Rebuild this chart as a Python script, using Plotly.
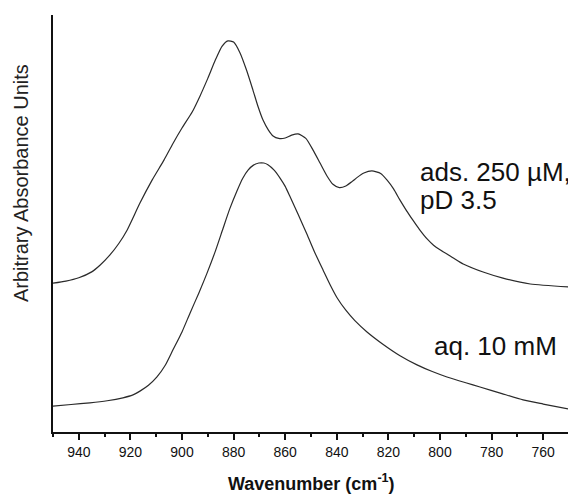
import plotly.graph_objects as go

# Adsorbed 250 uM, pD 3.5 (upper spectrum)
ads_wn = [950, 945, 940, 935, 931.8, 928, 924.5, 921.3, 916.3, 911.6, 907, 903.5, 900, 896,
          893, 890, 887, 884.5, 882.2, 880, 877.5, 875, 872.5, 870.5, 868.6, 866.5, 864.7,
          862.5, 860, 857.5, 855, 852, 849.2, 846.5, 843.8, 841.5, 839, 836.5, 834, 832.2,
          829.5, 826.4, 823, 820.5, 818, 815.5, 813, 810.5, 808, 805, 802.5, 800, 795, 791,
          783, 775.6, 765, 750]
ads_abs = [0.357, 0.362, 0.370, 0.384, 0.400, 0.424, 0.452, 0.484, 0.549, 0.604, 0.652, 0.692,
           0.729, 0.768, 0.806, 0.848, 0.893, 0.925, 0.938, 0.935, 0.909, 0.868, 0.820, 0.780,
           0.748, 0.724, 0.710, 0.704, 0.705, 0.712, 0.715, 0.704, 0.676, 0.645, 0.614, 0.594,
           0.586, 0.590, 0.601, 0.610, 0.621, 0.626, 0.620, 0.604, 0.583, 0.556, 0.531, 0.508,
           0.486, 0.463, 0.448, 0.437, 0.418, 0.403, 0.383, 0.369, 0.355, 0.348]

# Aqueous 10 mM (lower spectrum)
aq_wn = [950, 943, 935.7, 929, 922.9, 919, 916.3, 913, 909.7, 906.5, 903.5, 900, 896.9, 893.5,
         890.3, 887, 884.1, 881.5, 878.7, 876.5, 874.4, 872.3, 870.2, 868.3, 866.7, 864.3,
         862.0, 860, 858.1, 855, 851.6, 848.5, 845.3, 842.5, 839.9, 836.5, 833, 828.3, 822,
         815.5, 808.9, 803, 797.3, 790, 784.5, 776, 767.8, 760, 750]
aq_abs = [0.062, 0.066, 0.070, 0.075, 0.082, 0.089, 0.098, 0.112, 0.132, 0.160, 0.197, 0.240,
          0.285, 0.333, 0.381, 0.435, 0.488, 0.535, 0.578, 0.608, 0.628, 0.640, 0.645, 0.645,
          0.641, 0.628, 0.609, 0.589, 0.564, 0.522, 0.475, 0.430, 0.388, 0.352, 0.322, 0.292,
          0.267, 0.240, 0.210, 0.183, 0.161, 0.145, 0.132, 0.118, 0.108, 0.092, 0.077, 0.067,
          0.055]

x_tick_vals = [940, 920, 900, 880, 860, 840, 820, 800, 780, 760]
x_tick_text = [str(v) for v in x_tick_vals]
x_minor_vals = [950, 930, 910, 890, 870, 850, 830, 810, 790, 770, 750]

series_labels = ["ads. 250 µM,", "pD 3.5", "aq. 10 mM"]

FONT = "Liberation Sans, Arial, sans-serif"
LINE = "#2a2a2a"

fig = go.Figure()
for xs, ys in ((ads_wn, ads_abs), (aq_wn, aq_abs)):
    fig.add_trace(go.Scatter(x=xs, y=ys, mode="lines",
                             line=dict(color=LINE, width=1.2, shape="spline", smoothing=0.6),
                             showlegend=False, hoverinfo="skip"))

fig.update_layout(
    width=576, height=495,
    margin=dict(l=45, r=15, t=7, b=71),
    paper_bgcolor="white", plot_bgcolor="white",
    font=dict(family=FONT, color="#111"),
    xaxis=dict(range=[950, 750], showline=True, linecolor="#111", linewidth=1.5,
               showgrid=False, zeroline=False, ticks="outside", ticklen=6, tickwidth=1.5,
               tickcolor="#111", tickvals=x_tick_vals, ticktext=x_tick_text,
               tickfont=dict(size=14, family=FONT, color="#111"),
               minor=dict(tickvals=x_minor_vals, ticks="outside", ticklen=3,
                          tickwidth=1.5, tickcolor="#111")),
    yaxis=dict(range=[0, 1], showline=True, linecolor="#111", linewidth=2,
               showgrid=False, zeroline=False, showticklabels=False, ticks=""),
    annotations=[
        dict(text="Wavenumber (cm<sup>-1</sup>)", xref="paper", yref="paper",
             x=0.5, y=-0.122, xanchor="center", yanchor="middle", showarrow=False,
             font=dict(size=18, family=FONT, color="#111", weight="bold")),
        dict(text="Arbitrary Absorbance Units", xref="paper", yref="paper",
             x=-0.062, y=0.597, xanchor="center", yanchor="middle", showarrow=False,
             textangle=-90, font=dict(size=20, family=FONT, color="#222")),
        dict(text=series_labels[0], xref="paper", yref="paper",
             x=0.707, y=0.623, xanchor="left", yanchor="middle", showarrow=False,
             font=dict(size=26, family=FONT, color="#111")),
        dict(text=series_labels[1], xref="paper", yref="paper",
             x=0.707, y=0.556, xanchor="left", yanchor="middle", showarrow=False,
             font=dict(size=26, family=FONT, color="#111")),
        dict(text=series_labels[2], xref="paper", yref="paper",
             x=0.734, y=0.206, xanchor="left", yanchor="middle", showarrow=False,
             font=dict(size=26, family=FONT, color="#111")),
    ],
)

fig.write_html("out.html")
